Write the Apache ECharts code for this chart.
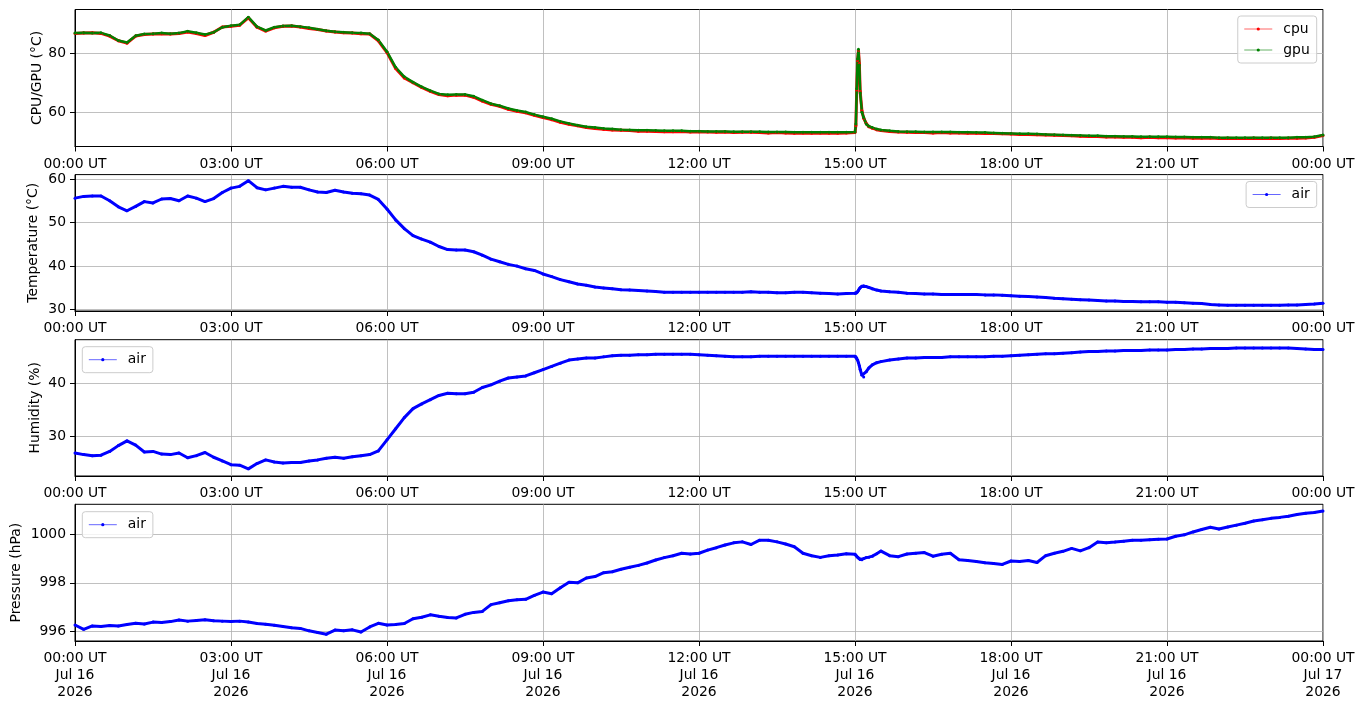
<!DOCTYPE html>
<html><head><meta charset="utf-8">
<script src="https://cdn.jsdelivr.net/npm/echarts@6/dist/echarts.min.js"></script>
<style>html,body{margin:0;padding:0;background:#fff}#c{width:1364px;height:707px}</style>
</head><body><div id="c"></div>
<script>
// ---- time grid (minutes since 00:00 UT Jul 16 2026) ----
const spikeMinutes = [901, 902, 903, 904, 905, 906, 908, 913, 916, 925];
const baseMinutes = [];
for (let m = 0; m <= 1440; m += 10) baseMinutes.push(m);
const T = baseMinutes.concat(spikeMinutes).sort((a, b) => a - b);

// ---- tick labels ----
const xTickValues = [0, 180, 360, 540, 720, 900, 1080, 1260, 1440];
const xTickLabels = ['00:00 UT','03:00 UT','06:00 UT','09:00 UT','12:00 UT','15:00 UT','18:00 UT','21:00 UT','00:00 UT'];
const xDateLabels = ['Jul 16\n2026','Jul 16\n2026','Jul 16\n2026','Jul 16\n2026','Jul 16\n2026','Jul 16\n2026','Jul 16\n2026','Jul 16\n2026','Jul 17\n2026'];
const yTicksCpu = [60, 80];
const yTicksTemp = [30, 40, 50, 60];
const yTicksHum = [30, 40];
const yTicksPres = [996, 998, 1000];

// ---- series values (aligned with T) ----
const gpu = [
86.8,86.9,86.8,86.9,86.0,84.3,
83.6,85.9,86.5,86.6,86.8,86.6,
86.8,87.4,86.9,86.3,87.1,88.8,
89.3,89.6,92.2,89.0,87.7,88.8,
89.2,89.3,89.0,88.6,88.1,87.6,
87.3,87.1,86.9,86.8,86.6,84.5,
80.5,75.2,72.0,70.2,68.6,67.3,
66.2,65.9,66.0,66.0,65.4,64.1,
62.9,62.2,61.3,60.6,60.1,59.2,
58.5,57.8,56.9,56.2,55.6,55.1,
54.8,54.5,54.3,54.1,54.0,53.9,
53.9,53.8,53.7,53.7,53.7,53.6,
53.6,53.5,53.5,53.5,53.4,53.4,
53.4,53.4,53.3,53.3,53.3,53.2,
53.2,53.2,53.2,53.2,53.2,53.2,
53.3,56.0,68.0,78.0,81.3,76.0,66.5,60.0,58.2,56.0,55.3,54.8,54.3,54.0,53.7,53.5,
53.4,53.4,53.3,53.3,53.3,53.3,
53.2,53.2,53.1,53.1,53.0,52.9,
52.8,52.7,52.7,52.6,52.5,52.4,
52.3,52.2,52.1,52.0,52.0,51.9,
51.9,51.8,51.8,51.7,51.7,51.7,
51.7,51.6,51.6,51.5,51.5,51.5,
51.4,51.4,51.4,51.4,51.4,51.4,
51.4,51.4,51.4,51.5,51.5,51.7,
52.3];
const cpu = [
86.7,86.8,86.9,86.7,85.8,84.2,
83.4,85.8,86.3,86.5,86.6,86.5,
86.7,87.2,86.7,86.0,87.1,88.9,
89.1,89.5,92.0,88.8,87.5,88.6,
89.1,89.2,88.9,88.4,88.0,87.5,
87.2,86.9,86.8,86.6,86.5,84.2,
80.2,74.8,71.6,70.0,68.4,67.1,
66.0,65.6,65.8,65.8,65.1,63.8,
62.7,62.0,61.0,60.3,59.8,59.0,
58.2,57.5,56.6,55.9,55.4,54.8,
54.5,54.2,54.0,53.9,53.8,53.6,
53.6,53.5,53.4,53.4,53.5,53.3,
53.4,53.3,53.2,53.3,53.1,53.2,
53.2,53.1,53.0,53.1,53.0,52.9,
53.0,52.9,53.0,52.9,52.9,53.0,
53.1,55.5,67.5,77.5,81.0,76.5,67.0,60.5,58.0,56.2,55.1,54.6,54.1,53.8,53.5,53.3,
53.2,53.1,53.1,53.0,53.1,53.0,
53.0,52.9,52.9,52.8,52.8,52.7,
52.6,52.5,52.5,52.4,52.3,52.2,
52.1,52.0,51.9,51.8,51.8,51.6,
51.6,51.5,51.5,51.4,51.5,51.4,
51.4,51.3,51.4,51.2,51.2,51.3,
51.1,51.2,51.1,51.1,51.2,51.1,
51.2,51.1,51.2,51.2,51.3,51.5,
52.1];
const airTemp = [
55.6,56.0,56.1,56.1,55.0,53.6,
52.7,53.7,54.8,54.5,55.4,55.5,
55.0,56.1,55.6,54.8,55.5,56.9,
57.9,58.3,59.6,58.0,57.5,57.9,
58.3,58.1,58.1,57.5,57.0,56.9,
57.4,57.0,56.7,56.6,56.3,55.3,
53.1,50.6,48.6,47.0,46.2,45.5,
44.5,43.8,43.7,43.7,43.3,42.5,
41.6,41.0,40.4,40.0,39.4,39.0,
38.2,37.6,36.9,36.4,35.9,35.6,
35.2,35.0,34.8,34.6,34.5,34.4,
34.3,34.2,34.0,34.0,34.0,34.0,
34.0,34.0,34.0,34.0,34.0,34.0,
34.1,34.0,34.0,33.9,33.9,34.0,
34.0,33.9,33.8,33.7,33.6,33.7,
33.8,33.8,33.9,34.1,34.4,34.8,35.1,35.4,35.5,35.3,35.1,34.8,34.5,34.3,34.1,34.0,
33.8,33.7,33.6,33.6,33.5,33.5,
33.5,33.5,33.5,33.4,33.4,33.3,
33.2,33.1,33.0,32.9,32.8,32.6,
32.5,32.4,32.3,32.2,32.1,32.0,
32.0,31.9,31.9,31.8,31.8,31.8,
31.7,31.7,31.6,31.5,31.4,31.2,
31.1,31.0,31.0,31.0,31.0,31.0,
31.0,31.0,31.1,31.1,31.2,31.3,
31.5];
const airHum = [
26.8,26.5,26.3,26.4,27.1,28.2,
29.1,28.3,27.0,27.1,26.6,26.5,
26.8,25.9,26.3,26.9,26.0,25.3,
24.6,24.5,23.8,24.8,25.5,25.1,
24.9,25.0,25.0,25.3,25.5,25.8,
26.0,25.8,26.1,26.3,26.5,27.2,
29.3,31.4,33.5,35.2,36.1,36.9,
37.7,38.1,38.0,38.0,38.3,39.2,
39.7,40.4,41.0,41.2,41.4,42.0,
42.6,43.2,43.8,44.4,44.6,44.8,
44.8,45.0,45.2,45.3,45.3,45.4,
45.4,45.5,45.5,45.5,45.5,45.5,
45.4,45.3,45.2,45.1,45.0,45.0,
45.0,45.1,45.1,45.1,45.1,45.1,
45.1,45.1,45.1,45.1,45.1,45.1,
45.1,45.0,44.8,44.4,43.9,43.3,42.6,41.5,41.2,42.2,42.9,43.5,43.9,44.1,44.4,44.6,
44.8,44.8,44.9,44.9,44.9,45.0,
45.0,45.0,45.0,45.0,45.1,45.1,
45.2,45.3,45.4,45.5,45.6,45.6,
45.7,45.8,45.9,46.0,46.0,46.1,
46.1,46.2,46.2,46.2,46.3,46.3,
46.3,46.4,46.4,46.5,46.5,46.6,
46.6,46.6,46.7,46.7,46.7,46.7,
46.7,46.7,46.7,46.6,46.5,46.4,
46.4];
const airPres = [
996.26,996.08,996.22,996.20,996.24,996.22,
996.28,996.33,996.30,996.38,996.36,996.40,
996.47,996.42,996.45,996.48,996.44,996.42,
996.40,996.42,996.38,996.32,996.29,996.25,
996.20,996.15,996.12,996.02,995.95,995.88,
996.05,996.02,996.06,995.97,996.18,996.33,
996.26,996.28,996.32,996.52,996.58,996.68,
996.62,996.57,996.55,996.70,996.78,996.82,
997.10,997.18,997.26,997.30,997.32,997.48,
997.62,997.55,997.80,998.02,998.00,998.20,
998.26,998.42,998.46,998.56,998.64,998.72,
998.82,998.94,999.04,999.12,999.22,999.19,
999.22,999.35,999.45,999.56,999.65,999.69,
999.58,999.76,999.76,999.69,999.60,999.49,
999.22,999.12,999.05,999.12,999.15,999.20,
999.18,999.14,999.10,999.06,999.02,999.00,998.96,998.95,999.00,999.04,999.06,999.10,999.20,999.31,999.12,999.08,
999.19,999.22,999.25,999.10,999.18,999.22,
998.95,998.92,998.88,998.83,998.80,998.76,
998.90,998.88,998.92,998.84,999.12,999.22,
999.30,999.42,999.32,999.45,999.68,999.65,
999.68,999.72,999.76,999.76,999.78,999.80,
999.81,999.92,999.98,1000.10,1000.20,1000.29,
1000.22,1000.30,1000.38,1000.46,1000.55,1000.60,
1000.66,1000.70,1000.75,1000.82,1000.87,1000.90,
1000.96];

// ---- build chart ----
const FONT = 'DejaVu Sans';
const FS = 13.9;
const pairs = vals => T.map((t, i) => [t, vals[i]]);
const grids = [
  {top: 9.5, height: 137},
  {top: 174.6, height: 136.4},
  {top: 339.7, height: 136.3},
  {top: 504.3, height: 136.7}
].map(g => Object.assign({left: 75, right: 41, show: true, borderColor: '#000', borderWidth: 1,
  containLabel: false, outerBoundsMode: 'none'}, g));

function xAxis(i) {
  const last = i === 3;
  return {
    type: 'value', gridIndex: i, min: 0, max: 1440, interval: 180,
    axisLine: {show: true, onZero: false, lineStyle: {color: '#000', width: 1}},
    axisTick: {show: true, length: 5, lineStyle: {color: '#000', width: 1}},
    splitLine: {show: true, lineStyle: {color: '#b0b0b0', width: 0.8}},
    axisLabel: {
      show: true, margin: 9, color: '#000', fontFamily: FONT, fontSize: FS, lineHeight: 17,
      showMinLabel: true, showMaxLabel: true, hideOverlap: false,
      formatter: v => {
        const k = xTickValues.indexOf(v);
        if (k < 0) return '';
        return last ? xTickLabels[k] + '\n' + xDateLabels[k] : xTickLabels[k];
      }
    }
  };
}
function yAxis(i, name, min, max, ticks, gap) {
  return {
    type: 'value', gridIndex: i, min: min, max: max,
    name: name, nameLocation: 'middle', nameGap: gap, nameMoveOverlap: false,
    nameTextStyle: {color: '#000', fontFamily: FONT, fontSize: FS},
    axisLine: {show: true, lineStyle: {color: '#000', width: 1}},
    axisTick: {show: true, length: 5, customValues: ticks, lineStyle: {color: '#000', width: 1}},
    splitLine: {show: true, customValues: ticks, lineStyle: {color: '#b0b0b0', width: 0.8}},
    axisLabel: {show: true, margin: 9, customValues: ticks, color: '#000', fontFamily: FONT, fontSize: FS,
      showMinLabel: true, showMaxLabel: true, formatter: v => String(v)}
  };
}
function line(name, vals, color, idx, width) {
  return {
    type: 'line', name: name, xAxisIndex: idx, yAxisIndex: idx, data: pairs(vals),
    symbol: 'circle', symbolSize: 3, showSymbol: true, showAllSymbol: true,
    itemStyle: {color: color}, lineStyle: {color: color, width: width},
    emphasis: {disabled: true}, silent: true, animation: false
  };
}
const legendBase = {
  orient: 'vertical', itemWidth: 28, itemHeight: 4, itemGap: 5,
  padding: [5, 7, 5, 6], borderColor: '#cccccc', borderWidth: 1, borderRadius: 3,
  backgroundColor: 'rgba(255,255,255,0.8)', selectedMode: false,
  textStyle: {color: '#000', fontFamily: FONT, fontSize: FS, lineHeight: 16, padding: [0, 0, 0, 6]},
  lineStyle: {width: 1, opacity: 0.6},
  itemStyle: {opacity: 1}
};
const option = {
  animation: false,
  backgroundColor: '#fff',
  grid: grids,
  xAxis: [xAxis(0), xAxis(1), xAxis(2), xAxis(3)],
  yAxis: [
    yAxis(0, 'CPU/GPU (°C)', 48.4, 94.8, yTicksCpu, 31),
    yAxis(1, 'Temperature (°C)', 29.7, 61.0, yTicksTemp, 35),
    yAxis(2, 'Humidity (%)', 22.45, 48.25, yTicksHum, 33),
    yAxis(3, 'Pressure (hPa)', 995.6, 1001.24, yTicksPres, 52)
  ],
  legend: [
    Object.assign({}, legendBase, {data: ['cpu', 'gpu'], right: 47.3, top: 16}),
    Object.assign({}, legendBase, {data: ['air'], right: 47.3, top: 181.5}),
    Object.assign({}, legendBase, {data: ['air'], left: 82.3, top: 346.7}),
    Object.assign({}, legendBase, {data: ['air'], left: 82.3, top: 511.7})
  ],
  series: [
    line('cpu', cpu, '#ff0000', 0, 3),
    line('gpu', gpu, '#008000', 0, 2.5),
    line('air', airTemp, '#0000ff', 1, 3),
    line('air', airHum, '#0000ff', 2, 3),
    line('air', airPres, '#0000ff', 3, 3)
  ]
};
const chart = echarts.init(document.getElementById('c'), null, {renderer: 'canvas'});
chart.setOption(option);
</script>
</body></html>
